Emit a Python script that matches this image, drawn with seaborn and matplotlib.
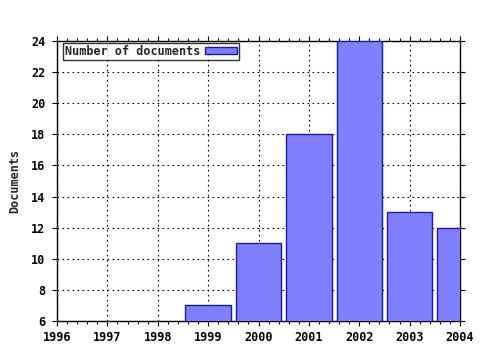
import matplotlib
matplotlib.use("Agg")
import matplotlib.pyplot as plt
import seaborn as sns
import pandas as pd
from matplotlib.ticker import MultipleLocator

years = [1999, 2000, 2001, 2002, 2003, 2004]
documents = [7, 11, 18, 24, 13, 12]
series_label = "Number of documents"
y_label = "Documents"
x_ticks = [1996, 1997, 1998, 1999, 2000, 2001, 2002, 2003, 2004]
y_ticks = [6, 8, 10, 12, 14, 16, 18, 20, 22, 24]

sns.set_style("white")
plt.rcParams['font.family'] = ['DejaVu Sans Mono']
plt.rcParams['font.weight'] = 'bold'

df = pd.DataFrame({"year": years, "docs": documents})

fig = plt.figure(figsize=(4.8, 3.5), dpi=100)
ax = fig.add_axes([57/480, 29/350, 403/480, 280/350])

sns.barplot(data=df, x="year", y="docs", native_scale=True, width=0.9,
            color="#8080ff", saturation=1, edgecolor="#1a1aa0", linewidth=1.0,
            label=series_label, ax=ax, zorder=3)

ax.set_xlim(1996, 2004)
ax.set_ylim(6, 24)
ax.set_xticks(x_ticks)
ax.set_xticklabels([str(t) for t in x_ticks])
ax.set_yticks(y_ticks)
ax.xaxis.set_minor_locator(MultipleLocator(0.2))
ax.grid(True, which="major", color="black", linestyle=(0, (1.5, 3)), linewidth=0.8, zorder=0)
ax.set_axisbelow(True)
ax.tick_params(axis="both", which="both", direction="out", top=True, right=True,
               bottom=True, left=True, colors="black", labelsize=8.5)
ax.tick_params(axis="both", which="major", length=3.5, width=0.8)
ax.tick_params(axis="x", which="minor", length=2.5, width=0.8)
ax.tick_params(axis="x", which="major", pad=4)
ax.tick_params(axis="y", which="major", pad=5)
for lbl in ax.get_xticklabels() + ax.get_yticklabels():
    lbl.set_fontweight("bold")
for s in ax.spines.values():
    s.set_color("black")
    s.set_linewidth(1.0)
ax.set_xlabel("")
ax.set_ylabel(y_label, fontsize=8.5, fontweight="bold", labelpad=7)

leg = ax.legend(loc="upper left", bbox_to_anchor=(6/403, 1 - 2/280), markerfirst=False,
                frameon=True, fancybox=False, fontsize=8.5, handlelength=2.7,
                handleheight=0.45, borderpad=0.15, borderaxespad=0.0, handletextpad=0.4)
leg.get_frame().set_edgecolor("black")
leg.get_frame().set_linewidth(1.0)
for t in leg.get_texts():
    t.set_fontweight("bold")

fig.savefig("out.png", dpi=100)
